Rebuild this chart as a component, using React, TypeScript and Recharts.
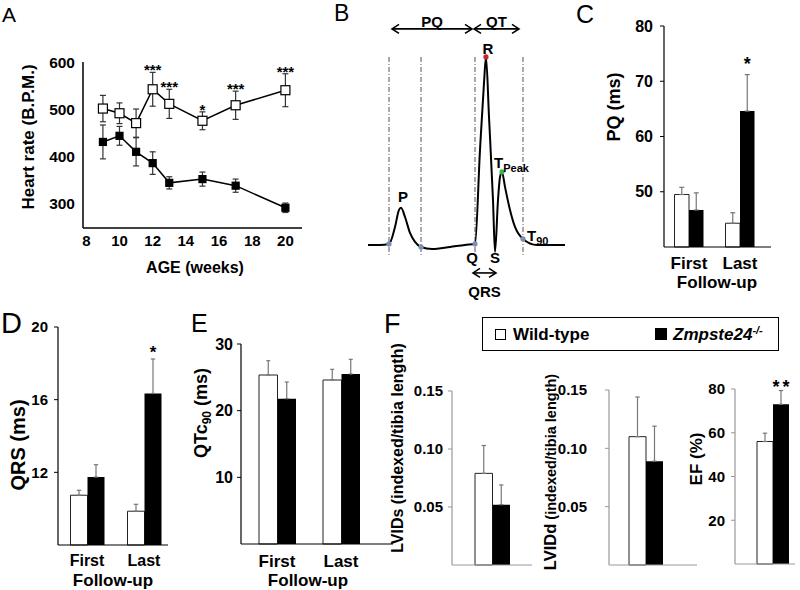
import React from 'react'
import {
  LineChart,
  Line,
  BarChart,
  Bar,
  XAxis,
  YAxis,
  ErrorBar,
  ReferenceLine,
  LabelList,
} from 'recharts'

const FONT = '"Liberation Sans", Arial, Helvetica, sans-serif'

// ---- A: heart rate vs age
const ages = [9, 10, 11, 12, 13, 15, 17, 20]
const ageTicks = [8, 10, 12, 14, 16, 18, 20]
const hrTicks = [300, 400, 500, 600]
const hrWildType = [501, 491, 470, 542, 511, 475, 508, 540]
const hrWildTypeSem = [28, 22, 30, 36, 31, 19, 30, 35]
const hrMutant = [430, 443, 409, 385, 343, 351, 337, 290]
const hrMutantSem = [36, 20, 30, 24, 13, 15, 14, 10]
const hrSig = ['', '', '', '***', '***', '*', '***', '***']

// ---- B: schematic ECG trace (time in ms, amplitude in mV)
const ecgTime = [
  0, 6, 10.5, 13.5, 15.5, 16.5, 18.5, 21, 23.5, 26.5, 32, 41, 48.5, 53.5, 56, 58, 59, 60.5, 62.5,
  63.5, 65, 66, 67, 68.5, 71, 73.5, 77.5, 84.5, 98.5,
]
const ecgVolt = [
  -0.005, -0.005, 0, 0.091, 0.182, 0.193, 0.144, 0.059, 0.011, -0.016, -0.027, -0.016, -0.005, 0,
  0.503, 0.861, 1.0, 0.679, 0.235, -0.043, 0.235, 0.358, 0.385, 0.305, 0.182, 0.091, 0.027, -0.005,
  -0.005,
]
const ecgMark = [
  '', '', 'Pon', '', '', 'P', '', '', '', 'Poff', '', '', '', 'Q', '', '', 'R', '', '', 'S', '', '',
  'Tpeak', '', '', '', 'T90', '', '',
]
const intervalNames = ['PQ', 'QT', 'QRS']
const intervalStart = [12, 53, 52.5]
const intervalEnd = [52, 75.5, 64]

// ---- C-E: ECG parameters at first / last follow-up
const followUp = ['First', 'Last']
const pqWildType = [49.5, 44.3]
const pqWildTypeSem = [1.3, 1.9]
const pqMutant = [46.7, 64.6]
const pqMutantSem = [3.1, 6.6]
const pqSig = ['', '*']

const qrsWildType = [10.74, 9.86]
const qrsWildTypeSem = [0.27, 0.38]
const qrsMutant = [11.74, 16.34]
const qrsMutantSem = [0.68, 1.9]
const qrsSig = ['', '*']

const qtcWildType = [25.35, 24.6]
const qtcWildTypeSem = [2.15, 1.6]
const qtcMutant = [21.8, 25.5]
const qtcMutantSem = [2.5, 2.2]
const qtcSig = ['', '']

// ---- F: echocardiography
const echoGroup = ['']
const lvidsWildType = [0.079]
const lvidsWildTypeSem = [0.024]
const lvidsMutant = [0.052]
const lvidsMutantSem = [0.017]
const lviddWildType = [0.11]
const lviddWildTypeSem = [0.034]
const lviddMutant = [0.089]
const lviddMutantSem = [0.03]
const efWildType = [56]
const efWildTypeSem = [3.8]
const efMutant = [73]
const efMutantSem = [6.3]
const efSig = ['**']

// ---------------------------------------------------------------

const tickFont = (size: number) => ({ fill: '#000', fontSize: size, fontWeight: 700, fontFamily: FONT })

function VLabel({ px, py, fs, tspans }: any) {
  const x = px + fs * 0.35
  return (
    <text
      x={x}
      y={py}
      transform={`rotate(-90 ${x} ${py})`}
      textAnchor="middle"
      fontSize={fs}
      fontWeight={700}
      fontFamily={FONT}
      fill="#000"
    >
      {tspans}
    </text>
  )
}

function HLabel({ px, py, fs, text }: any) {
  return (
    <text x={px} y={py + fs * 0.36} textAnchor="middle" fontSize={fs} fontWeight={700} fontFamily={FONT} fill="#000">
      {text}
    </text>
  )
}

const hrRows = ages.map((age, i) => ({
  age,
  wt: hrWildType[i],
  wtErr: hrWildTypeSem[i],
  ko: hrMutant[i],
  koErr: hrMutantSem[i],
  sigTop: hrSig[i] ? hrWildType[i] + hrWildTypeSem[i] : null,
  sig: hrSig[i],
}))

const squareDot = (size: number, fill: string) => (p: any) => {
  if (p.cx == null || p.cy == null) return <g key={`s${p.index}`} />
  return (
    <rect
      key={`s${p.index}`}
      x={p.cx - size / 2}
      y={p.cy - size / 2}
      width={size}
      height={size}
      fill={fill}
      stroke="#000"
      strokeWidth={1.2}
    />
  )
}

const lineStar = (size: number, gap: number) => (p: any) => {
  if (!p.value) return null
  const vb = p.viewBox ?? p
  const x = vb.x ?? p.x
  const y = vb.y ?? p.y
  if (x == null || y == null) return null
  return (
    <text x={x} y={y + gap} textAnchor="middle" fontSize={size} fontWeight={700} fontFamily={FONT} fill="#000">
      {p.value}
    </text>
  )
}

function HeartRatePanel() {
  return (
    <div style={{ position: 'absolute', left: 0, top: 40 }}>
      <LineChart width={320} height={250} data={hrRows} margin={{ top: 22, right: 18, bottom: 0, left: 0 }}>
        <XAxis
          dataKey="age"
          type="number"
          domain={[7.8, 21]}
          ticks={ageTicks}
          interval={0}
          height={62}
          axisLine={{ stroke: '#000', strokeWidth: 1.5 }}
          tickLine={false}
          tickSize={0}
          tickMargin={7}
          tick={tickFont(15)}
          label={<HLabel px={195} py={227} fs={16} text="AGE (weeks)" />}
        />
        <YAxis
          type="number"
          domain={[247, 600]}
          ticks={hrTicks}
          interval={0}
          width={83}
          axisLine={{ stroke: '#000', strokeWidth: 1.5 }}
          tickLine={false}
          tickSize={0}
          tickMargin={8}
          tick={tickFont(15.5)}
          label={<VLabel px={28} py={97} fs={17} tspans="Heart rate (B.P.M.)" />}
        />
        <Line
          dataKey="ko"
          stroke="#000"
          strokeWidth={1.5}
          dot={squareDot(7, '#000')}
          activeDot={false}
          isAnimationActive={false}
        >
          <ErrorBar dataKey="koErr" direction="y" width={3} stroke="#333" strokeWidth={1.2} />
        </Line>
        <Line
          dataKey="wt"
          stroke="#000"
          strokeWidth={1.5}
          dot={squareDot(9, '#fff')}
          activeDot={false}
          isAnimationActive={false}
        >
          <ErrorBar dataKey="wtErr" direction="y" width={3} stroke="#333" strokeWidth={1.2} />
        </Line>
        <Line dataKey="sigTop" stroke="none" dot={false} activeDot={false} isAnimationActive={false}>
          <LabelList dataKey="sig" content={lineStar(15, 3)} />
        </Line>
      </LineChart>
    </div>
  )
}

// ---- B
const BLUE = '#7d8fb3'
const markStyle: Record<string, any> = {
  Pon: { dot: BLUE },
  P: { label: 'P', dx: 2, dy: -5.5 },
  Poff: { dot: BLUE },
  Q: { dot: BLUE, label: 'Q', dx: -3, dy: 19 },
  R: { dot: '#c62828', label: 'R', dx: 2, dy: -3 },
  S: { label: 'S', dx: 0, dy: 11 },
  Tpeak: { dot: '#39b54a', label: 'T', sub: 'Peak', dx: -8, dy: -4, start: true },
  T90: { dot: BLUE, label: 'T', sub: '90', dx: 4, dy: 2.5, start: true },
}
const GUIDE_MARKS = ['Pon', 'Poff', 'Q', 'T90']
const GUIDE_TOP = 1.0
const GUIDE_BOTTOM = -0.06
const ARROW_LEVEL: Record<string, number> = { PQ: 1.15, QT: 1.15, QRS: -0.155 }

const ecgRows = ecgTime.map((t, i) => ({ t, v: ecgVolt[i], mark: ecgMark[i] }))
const guideTimes = ecgRows.filter((r) => GUIDE_MARKS.includes(r.mark)).map((r) => r.t)

const ecgDot = (p: any) => {
  const st = markStyle[p.payload?.mark]
  if (!st || p.cx == null) return <g key={`e${p.index}`} />
  return (
    <g key={`e${p.index}`}>
      {st.dot && <circle cx={p.cx} cy={p.cy} r={2.6} fill={st.dot} stroke="none" />}
      {st.label && (
        <text
          x={p.cx + st.dx}
          y={p.cy + st.dy}
          textAnchor={st.start ? 'start' : 'middle'}
          fontSize={15}
          fontWeight={700}
          fontFamily={FONT}
          fill="#000"
        >
          {st.label}
          {st.sub && (
            <tspan fontSize={11} dy={4}>
              {st.sub}
            </tspan>
          )}
        </text>
      )}
    </g>
  )
}

function DoubleArrow(props: any) {
  const { x1, y1, x2, y2, name } = props
  const h = 7
  const w = 4.5
  const below = name === 'QRS'
  return (
    <g>
      <line x1={x1} y1={y1} x2={x2} y2={y2} stroke="#000" strokeWidth={1.6} />
      <polyline points={`${x1 + h},${y1 - w} ${x1},${y1} ${x1 + h},${y1 + w}`} fill="none" stroke="#000" strokeWidth={1.6} />
      <polyline points={`${x2 - h},${y2 - w} ${x2},${y2} ${x2 - h},${y2 + w}`} fill="none" stroke="#000" strokeWidth={1.6} />
      <text
        x={(x1 + x2) / 2}
        y={below ? y1 + 24 : y1 - 2}
        textAnchor="middle"
        fontSize={15}
        fontWeight={700}
        fontFamily={FONT}
        fill="#000"
      >
        {name}
      </text>
    </g>
  )
}

function EcgPanel() {
  return (
    <div style={{ position: 'absolute', left: 330, top: 0 }}>
      <LineChart width={240} height={300} data={ecgRows} margin={{ top: 10, right: 5, bottom: 2, left: 38 }}>
        <XAxis dataKey="t" type="number" domain={[0, 98.5]} hide />
        <YAxis type="number" domain={[-0.289, 1.251]} hide />
        {guideTimes.map((t) => (
          <ReferenceLine
            key={`g${t}`}
            segment={[
              { x: t, y: GUIDE_TOP },
              { x: t, y: GUIDE_BOTTOM },
            ]}
            stroke="#555"
            strokeWidth={1}
            strokeDasharray="5 2 1 2"
          />
        ))}
        {intervalNames.map((name, i) => (
          <ReferenceLine
            key={name}
            segment={[
              { x: intervalStart[i], y: ARROW_LEVEL[name] },
              { x: intervalEnd[i], y: ARROW_LEVEL[name] },
            ]}
            shape={(p: any) => <DoubleArrow {...p} name={name} />}
          />
        ))}
        <Line
          dataKey="v"
          type="monotone"
          stroke="#000"
          strokeWidth={2}
          dot={ecgDot}
          activeDot={false}
          isAnimationActive={false}
        />
      </LineChart>
    </div>
  )
}

// ---- bar panels
function makeRows(cats: string[], wt: number[], wtSem: number[], ko: number[], koSem: number[], sig: string[]) {
  return cats.map((group, i) => ({
    group,
    wt: wt[i],
    wtErr: [0, wtSem[i]],
    ko: ko[i],
    koErr: [0, koSem[i]],
    koSem: koSem[i],
    sig: sig[i],
  }))
}

const barStar = (rows: any[], base: number, size: number, gap: number, spacing = 0) => (p: any) => {
  const r = p.index != null ? rows[p.index] : rows.find((row) => row.sig === p.value)
  if (!r || !r.sig) return null
  const vb = p.viewBox ?? p
  const x = vb.x + vb.width / 2
  const top = Math.min(vb.y, vb.y + vb.height)
  const errTop = top - (r.koSem * Math.abs(vb.height)) / (r.ko - base)
  return (
    <text
      x={x + spacing / 2}
      y={errTop + gap}
      textAnchor="middle"
      fontSize={size}
      fontWeight={700}
      fontFamily={FONT}
      letterSpacing={spacing}
      fill="#000"
    >
      {r.sig}
    </text>
  )
}

function BarPanel(props: any) {
  const { left, top, width, height, plot, rows, domain, ticks, fmt, barSize, pad, axisColor, tickFs, yTickMargin, catMargin, yLabel, xLabel, cap, star, errColor } = props
  const [x0, x1, y0, y1] = plot
  return (
    <div style={{ position: 'absolute', left, top }}>
      <BarChart
        width={width}
        height={height}
        data={rows}
        margin={{ top: y0 - top, right: left + width - x1, bottom: 0, left: 0 }}
        barGap={0}
        barSize={barSize}
      >
        <XAxis
          dataKey="group"
          type="category"
          padding={pad}
          height={top + height - y1}
          axisLine={{ stroke: axisColor, strokeWidth: 1.2 }}
          tickLine={false}
          tickSize={0}
          tickMargin={catMargin ?? 0}
          tick={catMargin == null ? false : tickFont(tickFs + 1)}
          interval={0}
          label={xLabel}
        />
        <YAxis
          type="number"
          domain={domain}
          ticks={ticks}
          interval={0}
          tickFormatter={fmt}
          width={x0 - left}
          axisLine={{ stroke: axisColor, strokeWidth: 1.2 }}
          tickLine={{ stroke: axisColor }}
          tickSize={4}
          tickMargin={yTickMargin}
          tick={tickFont(tickFs)}
          label={yLabel}
        />
        <Bar dataKey="wt" fill="#fff" stroke="#222" strokeWidth={1} isAnimationActive={false}>
          <ErrorBar dataKey="wtErr" width={cap} stroke={errColor} strokeWidth={1.2} />
        </Bar>
        <Bar dataKey="ko" fill="#000" isAnimationActive={false}>
          <ErrorBar dataKey="koErr" width={cap} stroke={errColor} strokeWidth={1.2} />
          <LabelList dataKey="sig" content={barStar(rows, domain[0], star.size, star.gap, star.spacing)} />
        </Bar>
      </BarChart>
    </div>
  )
}

const pqRows = makeRows(followUp, pqWildType, pqWildTypeSem, pqMutant, pqMutantSem, pqSig)
const qrsRows = makeRows(followUp, qrsWildType, qrsWildTypeSem, qrsMutant, qrsMutantSem, qrsSig)
const qtcRows = makeRows(followUp, qtcWildType, qtcWildTypeSem, qtcMutant, qtcMutantSem, qtcSig)
const lvidsRows = makeRows(echoGroup, lvidsWildType, lvidsWildTypeSem, lvidsMutant, lvidsMutantSem, [''])
const lviddRows = makeRows(echoGroup, lviddWildType, lviddWildTypeSem, lviddMutant, lviddMutantSem, [''])
const efRows = makeRows(echoGroup, efWildType, efWildTypeSem, efMutant, efMutantSem, efSig)

const fmt2 = (v: number) => v.toFixed(2)

function GroupLegend() {
  const text = { position: 'absolute' as const, top: 7, lineHeight: '20px', fontSize: 17, fontWeight: 700, fontFamily: FONT }
  return (
    <div
      style={{
        position: 'absolute',
        left: 482,
        top: 317,
        width: 297,
        height: 34,
        border: '1px solid #000',
        boxSizing: 'border-box',
        background: '#fff',
      }}
    >
      <span style={{ position: 'absolute', left: 12, top: 11, width: 11, height: 11, border: '1px solid #000', boxSizing: 'border-box' }} />
      <span style={{ ...text, left: 30 }}>Wild-type</span>
      <span style={{ position: 'absolute', left: 172, top: 10, width: 12, height: 12, background: '#000' }} />
      <span style={{ ...text, left: 190, fontStyle: 'italic' }}>
        Zmpste24
        <span style={{ fontSize: 11, position: 'relative', top: -6 }}>-/-</span>
      </span>
    </div>
  )
}

const panelLetters = [
  { t: 'A', x: 2, y: 22, s: 21 },
  { t: 'B', x: 334, y: 21, s: 23 },
  { t: 'C', x: 576, y: 23, s: 25 },
  { t: 'D', x: 1, y: 333, s: 29 },
  { t: 'E', x: 191, y: 332, s: 25 },
  { t: 'F', x: 384, y: 333, s: 27 },
]

export default function App() {
  return (
    <div
      style={{
        position: 'absolute',
        left: 0,
        top: 0,
        width: 800,
        height: 590,
        background: '#fff',
        overflow: 'hidden',
        fontFamily: FONT,
      }}
    >
      <HeartRatePanel />
      <EcgPanel />
      <BarPanel
        left={590}
        top={0}
        width={200}
        height={300}
        plot={[664, 771, 26, 247]}
        rows={pqRows}
        domain={[40, 80]}
        ticks={[50, 60, 70, 80]}
        barSize={14.5}
        pad={{ left: -0.5, right: 5.5 }}
        axisColor="#000"
        errColor="#777"
        tickFs={16}
        yTickMargin={7}
        catMargin={10}
        cap={2.5}
        star={{ size: 18, gap: -5 }}
        yLabel={<VLabel px={24} py={107} fs={18} tspans="PQ (ms)" />}
        xLabel={<HLabel px={127} py={282} fs={17} text="Follow-up" />}
      />
      <BarPanel
        left={0}
        top={310}
        width={180}
        height={280}
        plot={[58, 168, 327, 545]}
        rows={qrsRows}
        domain={[8, 20]}
        ticks={[12, 16, 20]}
        barSize={17}
        pad={{ left: 0.5, right: -4.5 }}
        axisColor="#000"
        errColor="#777"
        tickFs={15}
        yTickMargin={6}
        catMargin={10}
        cap={2.2}
        star={{ size: 17, gap: -1 }}
        yLabel={<VLabel px={17.5} py={135} fs={20} tspans="QRS (ms)" />}
        xLabel={<HLabel px={113} py={270} fs={17} text="Follow-up" />}
      />
      <BarPanel
        left={180}
        top={310}
        width={220}
        height={280}
        plot={[241, 393, 344, 544]}
        rows={qtcRows}
        domain={[0, 30]}
        ticks={[10, 20, 30]}
        barSize={18.5}
        pad={{ left: 4, right: 20 }}
        axisColor="#000"
        errColor="#777"
        tickFs={16}
        yTickMargin={4}
        catMargin={11}
        cap={2}
        star={{ size: 17, gap: 0 }}
        yLabel={
          <VLabel
            px={21}
            py={103}
            fs={18}
            tspans={[
              'QTc',
              <tspan key="s" fontSize={12} dy={4}>
                90
              </tspan>,
              <tspan key="r" dy={-4}>
                {' (ms)'}
              </tspan>,
            ]}
          />
        }
        xLabel={<HLabel px={128} py={270} fs={17} text="Follow-up" />}
      />
      <BarPanel
        left={380}
        top={320}
        width={160}
        height={255}
        plot={[452, 532, 391, 565]}
        rows={lvidsRows}
        domain={[0, 0.15]}
        ticks={[0.05, 0.1, 0.15]}
        fmt={fmt2}
        barSize={17.5}
        pad={{ left: 0, right: 0 }}
        axisColor="#999"
        errColor="#777"
        tickFs={15}
        yTickMargin={5}
        catMargin={null}
        cap={2.2}
        star={{ size: 18, gap: 0 }}
        yLabel={<VLabel px={17} py={128} fs={16} tspans="LVIDs (indexed/tibia length)" />}
      />
      <BarPanel
        left={540}
        top={320}
        width={160}
        height={262}
        plot={[609, 697, 390, 565]}
        rows={lviddRows}
        domain={[0, 0.15]}
        ticks={[0.05, 0.1, 0.15]}
        fmt={fmt2}
        barSize={17}
        pad={{ left: 0, right: 14 }}
        axisColor="#999"
        errColor="#777"
        tickFs={15}
        yTickMargin={18}
        catMargin={null}
        cap={2.2}
        star={{ size: 18, gap: 0 }}
        yLabel={
          <VLabel
            px={10}
            py={152}
            fs={16}
            tspans={[
              <tspan key="a" fontSize={16.5}>
                LVIDd
              </tspan>,
              <tspan key="b" fontSize={14.5}>
                {' (indexed/tibia length)'}
              </tspan>,
            ]}
          />
        }
      />
      <BarPanel
        left={685}
        top={320}
        width={115}
        height={255}
        plot={[735, 795, 389, 564]}
        rows={efRows}
        domain={[0, 80]}
        ticks={[20, 40, 60, 80]}
        barSize={16}
        pad={{ left: 16, right: 0 }}
        axisColor="#999"
        errColor="#777"
        tickFs={15}
        yTickMargin={6}
        catMargin={null}
        cap={2.2}
        star={{ size: 18, gap: 2, spacing: 3 }}
        yLabel={<VLabel px={11} py={139} fs={17} tspans="EF (%)" />}
      />
      <GroupLegend />
      <svg width={800} height={590} style={{ position: 'absolute', left: 0, top: 0, pointerEvents: 'none' }}>
        {panelLetters.map((l) => (
          <text key={l.t} x={l.x} y={l.y} fontSize={l.s} fontFamily={FONT} fill="#000">
            {l.t}
          </text>
        ))}
      </svg>
    </div>
  )
}
